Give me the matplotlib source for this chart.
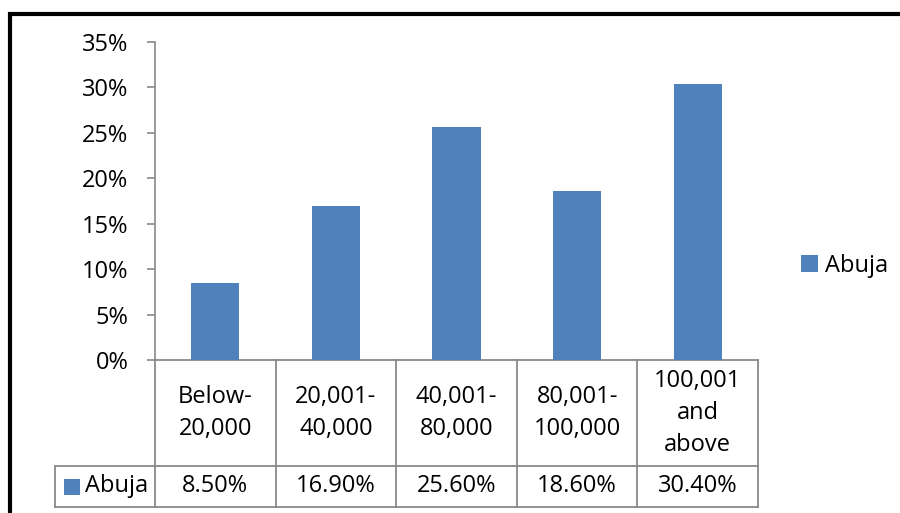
import matplotlib
matplotlib.use("Agg")
import matplotlib.pyplot as plt
import matplotlib.transforms as mtransforms
from matplotlib.patches import Rectangle
from matplotlib.lines import Line2D

# Income bands and share of respondents (Abuja)
categories = ["Below-\n20,000", "20,001-\n40,000", "40,001-\n80,000",
              "80,001-\n100,000", "100,001\nand\nabove"]
series_name = "Abuja"
values = [8.50, 16.90, 25.60, 18.60, 30.40]
value_labels = ["8.50%", "16.90%", "25.60%", "18.60%", "30.40%"]
y_ticks = [0, 5, 10, 15, 20, 25, 30, 35]

BAR = "#4F81BD"
GRID = "#898989"
FS = 17

plt.rcParams["font.family"] = ["Open Sans", "DejaVu Sans"]

fig = plt.figure(figsize=(9.0, 5.13), dpi=100)
ax = fig.add_axes([155 / 900, 1 - 360 / 513, 603 / 900, 318 / 513])

x = list(range(len(categories)))
ax.bar(x, values, width=0.4, color=BAR, label=series_name, zorder=3)

ax.set_xlim(-0.5, len(categories) - 0.5)
ax.set_ylim(0, 35)
ax.set_yticks(y_ticks)
ax.set_yticklabels([f"{t}%" for t in y_ticks], fontsize=FS)
ax.tick_params(axis="y", length=6, width=1.2, color=GRID, pad=13)
ax.set_xticks([])
for side in ("top", "right", "bottom"):
    ax.spines[side].set_visible(False)
ax.spines["left"].set_color(GRID)
ax.spines["left"].set_linewidth(1.2)

# Data table below the plot (x in data units, y in axes fraction)
trans = mtransforms.blended_transform_factory(ax.transData, ax.transAxes)
row1 = -106 / 318
row2 = -147 / 318
x_leg = -0.5 - 100 / 120.6
lw = 1.3
line_kw = dict(color=GRID, linewidth=lw, transform=trans, clip_on=False)

ax.add_line(Line2D([-0.5, len(categories) - 0.5], [0, 0], **line_kw))
ax.add_line(Line2D([x_leg, len(categories) - 0.5], [row1, row1], **line_kw))
ax.add_line(Line2D([x_leg, len(categories) - 0.5], [row2, row2], **line_kw))
for b in range(len(categories) + 1):
    ax.add_line(Line2D([b - 0.5, b - 0.5], [0, row2], **line_kw))
ax.add_line(Line2D([x_leg, x_leg], [row1, row2], **line_kw))

for i, (cat, lab) in enumerate(zip(categories, value_labels)):
    ax.text(i, row1 / 2, cat, transform=trans, ha="center", va="center",
            fontsize=FS, linespacing=1.47, clip_on=False)
    ax.text(i, (row1 + row2) / 2, lab, transform=trans, ha="center",
            va="center", fontsize=FS, clip_on=False)

# Legend key inside the table row header
key_w = 16 / 120.6
key_h = 16 / 318
key_x = x_leg + 9 / 120.6
key_y = (row1 + row2) / 2 - key_h / 2
ax.add_patch(Rectangle((key_x, key_y), key_w, key_h, facecolor=BAR,
                       edgecolor="none", transform=trans, clip_on=False))
ax.text(key_x + key_w + 5 / 120.6, (row1 + row2) / 2, series_name,
        transform=trans, ha="left", va="center", fontsize=FS, clip_on=False)

# Side legend
ax.legend(loc="center left", bbox_to_anchor=(801 / 900, 1 - 266 / 513),
          bbox_transform=fig.transFigure, frameon=False, fontsize=FS,
          handlelength=0.7, handleheight=0.7, handletextpad=0.3,
          borderpad=0, borderaxespad=0)

# Outer chart frame
fig.patches.append(Rectangle((10 / 900, -0.2), 1.2, 1 - 14 / 513 + 0.2,
                             transform=fig.transFigure, facecolor="none",
                             edgecolor="black", linewidth=3.0))

fig.savefig("out.png", dpi=100)
